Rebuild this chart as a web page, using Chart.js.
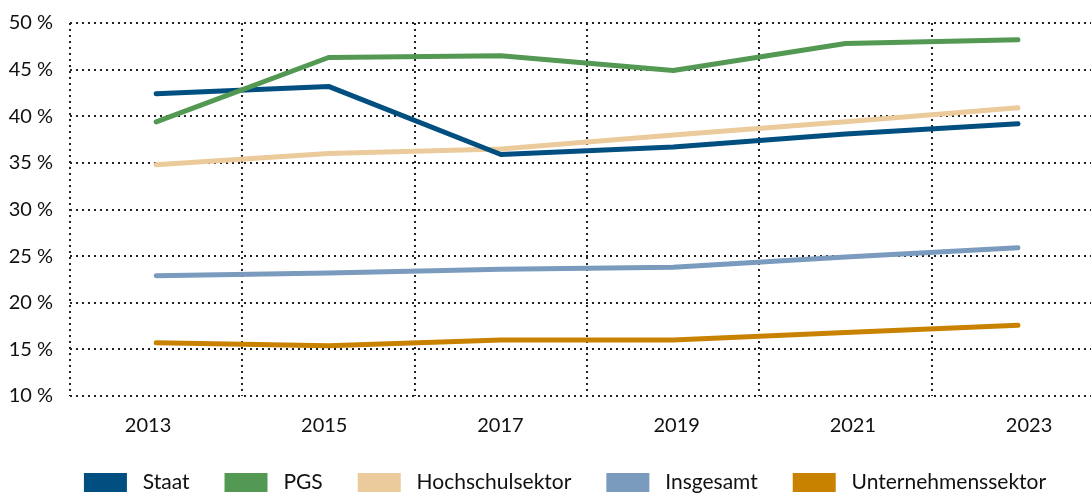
<!DOCTYPE html>
<html>
<head>
<meta charset="utf-8">
<script src="https://cdn.jsdelivr.net/npm/chart.js@4"></script>
<style>
  html, body { margin: 0; padding: 0; background: #fff; overflow: hidden; }
  #wrap { position: relative; width: 1130px; height: 493px; }
</style>
</head>
<body>
<div id="wrap"><canvas id="myChart"></canvas></div>
<script>
// Jahre und Anteile in %
const years = [2013, 2015, 2017, 2019, 2021, 2023];
const staat = [42.4, 43.2, 35.9, 36.7, 38.1, 39.2];
const pgs = [39.4, 46.3, 46.5, 44.9, 47.8, 48.2];
const hochschule = [34.8, 36.0, 36.5, 38.0, 39.4, 40.9];
const insgesamt = [22.9, 23.2, 23.6, 23.8, 24.9, 25.9];
const unternehmen = [15.7, 15.4, 16.0, 16.0, 16.8, 17.6];
const yTicks = [10, 15, 20, 25, 30, 35, 40, 45, 50];
const gridYears = [2012, 2014, 2016, 2018, 2020, 2022, 2024];

const font = "Lato";
const gridColor = "#222";

function line(label, values, color, order) {
  return {
    label: label,
    data: years.map((y, i) => ({ x: y, y: values[i] })),
    borderColor: color,
    backgroundColor: color,
    borderWidth: 5,
    borderCapStyle: "round",
    borderJoinStyle: "round",
    pointRadius: 0,
    tension: 0,
    order: order,
  };
}

const ctx = document.getElementById("myChart");

new Chart(ctx, {
  type: "line",
  data: {
    datasets: [
      line("Staat", staat, "#004f80", 1),
      line("PGS", pgs, "#539953", 0),
      line("Hochschulsektor", hochschule, "#ebcb9c", 2),
      line("Insgesamt", insgesamt, "#7a9bbd", 3),
      line("Unternehmenssektor", unternehmen, "#c98100", 4),
    ],
  },
  options: {
    responsive: true,
    maintainAspectRatio: false,
    animation: false,
    layout: { padding: { top: 23, right: 0, bottom: -10, left: 0 } },
    plugins: {
      tooltip: { enabled: false },
      legend: {
        position: "bottom",
        labels: {
          boxWidth: 43,
          boxHeight: 19,
          padding: 35,
          color: "#111",
          font: { family: font, size: 21 },
          sort: (a, b) => a.datasetIndex - b.datasetIndex,
          generateLabels: (chart) => {
            const items = Chart.defaults.plugins.legend.labels.generateLabels(chart);
            return items.map((it) => {
              it.text = " " + it.text;
              it.lineWidth = 0;
              it.fillStyle = it.strokeStyle;
              return it;
            });
          },
        },
      },
    },
    scales: {
      x: {
        type: "linear",
        weight: 1,
        min: 2012,
        max: 2024.3,
        afterBuildTicks: (axis) => {
          axis.ticks = gridYears.map((v) => ({ value: v }));
        },
        afterFit: (axis) => {
          axis.height = 0;
        },
        grid: { color: gridColor, lineWidth: 2, drawTicks: false },
        border: { display: false, dash: [2, 4] },
        ticks: { display: false },
      },
      // Beschriftung der Jahre (leicht gespreizt wie im Original)
      xLabels: {
        type: "linear",
        position: "bottom",
        weight: 0,
        min: -0.443,
        max: 5.573,
        afterBuildTicks: (axis) => {
          axis.ticks = years.map((y, i) => ({ value: i }));
        },
        afterFit: (axis) => {
          axis.height = 41;
        },
        grid: { display: false },
        border: { display: false },
        ticks: {
          color: "#111",
          padding: 10,
          font: { family: font, size: 20 },
          callback: (v) => String(years[v]),
        },
      },
      y: {
        min: 10,
        max: 50,
        afterBuildTicks: (axis) => {
          axis.ticks = yTicks.map((v) => ({ value: v }));
        },
        afterFit: (axis) => {
          axis.width = 70;
          axis.paddingTop = 0;
          axis.paddingBottom = 0;
        },
        grid: { color: gridColor, lineWidth: 2, drawTicks: false },
        border: { display: false, dash: [2, 4] },
        ticks: {
          color: "#111",
          padding: 17,
          font: { family: font, size: 20 },
          callback: (v) => v + " %",
        },
      },
    },
  },
});
</script>
</body>
</html>
